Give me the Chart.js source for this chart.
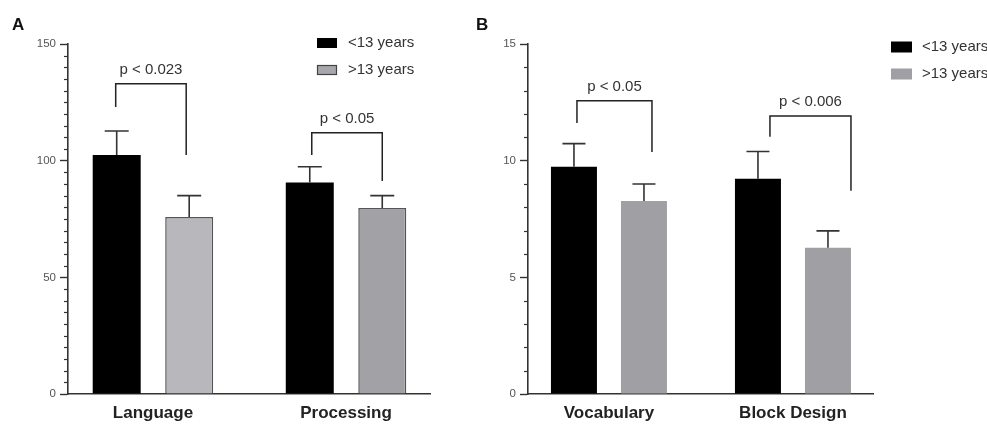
<!DOCTYPE html>
<html>
<head>
<meta charset="utf-8">
<script src="https://cdn.jsdelivr.net/npm/chart.js@4/dist/chart.umd.min.js"></script>
<style>
  html, body { margin: 0; padding: 0; background: #fff; }
  #wrap { position: relative; width: 987px; height: 426px; overflow: hidden; font-family: 'Liberation Sans', Arial, sans-serif; }
  .panel { position: absolute; top: 0; }
  .letter { position: absolute; top: 16px; font-weight: bold; font-size: 17px; line-height: 17px; color: #111; }
</style>
</head>
<body>
<div id="wrap">
  <div class="panel" style="left:0"><canvas id="chartA" width="480" height="426"></canvas></div>
  <div class="panel" style="left:480px"><canvas id="chartB" width="507" height="426"></canvas></div>
  <div class="letter" style="left:12px">A</div>
  <div class="letter" style="left:476px">B</div>
</div>
<script>
const FONT = "'Liberation Sans', Arial, sans-serif";
const SERIES = ['<13 years', '>13 years'];

// panel A
const catsA = ['Language', 'Processing'];
const youngA = [102.4, 90.6];
const youngErrA = [10.3, 6.8];
const oldA = [75.9, 79.7];
const oldErrA = [9.1, 5.3];
const pLabelsA = ['p < 0.023', 'p < 0.05'];
const bracketTopA = [133, 112];
const bracketLeftA = [123, 102.4];
const bracketRightA = [102.4, 91.3];

// panel B
const catsB = ['Vocabulary', 'Block Design'];
const youngB = [9.74, 9.23];
const youngErrB = [0.99, 1.16];
const oldB = [8.27, 6.27];
const oldErrB = [0.73, 0.72];
const pLabelsB = ['p < 0.05', 'p < 0.006'];
const bracketTopB = [12.57, 11.91];
const bracketLeftB = [11.61, 11.03];
const bracketRightB = [10.37, 8.71];

const annotate = {
  id: 'annotate',
  afterDatasetsDraw(chart, args, opts) {
    const ctx = chart.ctx;
    const y = chart.scales.y;
    ctx.save();

    // minor ticks on the y axis
    ctx.strokeStyle = '#333';
    ctx.lineWidth = 1.2;
    y.ticks.forEach((t) => {
      if (t.value % opts.major === 0) return;
      const py = Math.round(y.getPixelForValue(t.value)) + 0.5;
      ctx.beginPath();
      ctx.moveTo(chart.chartArea.left - 4, py);
      ctx.lineTo(chart.chartArea.left, py);
      ctx.stroke();
    });

    // error bars (upper whisker only)
    ctx.strokeStyle = '#333';
    ctx.lineWidth = 1.6;
    chart.data.datasets.forEach((ds, di) => {
      const meta = chart.getDatasetMeta(di);
      meta.data.forEach((bar, i) => {
        const top = y.getPixelForValue(ds.data[i].y + ds.errors[i]);
        const half = bar.width / 4;
        ctx.beginPath();
        ctx.moveTo(bar.x, bar.y);
        ctx.lineTo(bar.x, top);
        ctx.moveTo(bar.x - half, top);
        ctx.lineTo(bar.x + half, top);
        ctx.stroke();
      });
    });

    // significance brackets
    const m0 = chart.getDatasetMeta(0);
    const m1 = chart.getDatasetMeta(1);
    ctx.strokeStyle = '#222';
    ctx.lineWidth = 1.5;
    ctx.fillStyle = '#333';
    ctx.font = '15px ' + FONT;
    ctx.textAlign = 'center';
    ctx.textBaseline = 'middle';
    opts.labels.forEach((label, i) => {
      const lx = m0.data[i].x + opts.shift[i][0];
      const rx = m1.data[i].x + opts.shift[i][1];
      const ty = y.getPixelForValue(opts.top[i]);
      ctx.beginPath();
      ctx.moveTo(lx, y.getPixelForValue(opts.left[i]));
      ctx.lineTo(lx, ty);
      ctx.lineTo(rx, ty);
      ctx.lineTo(rx, y.getPixelForValue(opts.right[i]));
      ctx.stroke();
      ctx.fillText(label, (lx + rx) / 2, ty - 14);
    });

    // legend
    ctx.textAlign = 'left';
    chart.data.datasets.forEach((ds, di) => {
      const cy = opts.legend.y[di];
      const sx = opts.legend.x;
      ctx.fillStyle = opts.legend.fill[di];
      ctx.fillRect(sx, cy - opts.legend.h / 2, opts.legend.w, opts.legend.h);
      if (opts.legend.border[di]) {
        ctx.strokeStyle = opts.legend.border[di];
        ctx.lineWidth = 1.2;
        ctx.strokeRect(sx + 0.5, cy - opts.legend.h / 2 + 0.5, opts.legend.w - 1, opts.legend.h - 1);
      }
      ctx.fillStyle = '#333';
      ctx.fillText(ds.label, opts.legend.textX, cy);
    });

    ctx.restore();
  }
};

function makeChart(id, cfg) {
  return new Chart(document.getElementById(id), {
    type: 'bar',
    data: {
      datasets: [
        {
          label: SERIES[0],
          data: cfg.cats.map((c, i) => ({ x: i, y: cfg.young[i] })),
          errors: cfg.youngErr,
          backgroundColor: '#000',
          borderWidth: 0
        },
        {
          label: SERIES[1],
          data: cfg.cats.map((c, i) => ({ x: i, y: cfg.old[i] })),
          errors: cfg.oldErr,
          backgroundColor: cfg.grayFill,
          borderColor: cfg.grayBorder,
          borderWidth: cfg.grayBorderWidth,
          borderSkipped: 'bottom'
        }
      ]
    },
    options: {
      responsive: false,
      animation: false,
      categoryPercentage: cfg.catPct,
      barPercentage: cfg.barPct,
      layout: { padding: { top: 44, left: 0, right: cfg.padRight, bottom: 0 } },
      plugins: {
        legend: { display: false },
        tooltip: { enabled: false },
        annotate: cfg.annotate
      },
      scales: {
        x: {
          type: 'linear',
          min: -0.44,
          max: 1.435,
          offset: false,
          afterBuildTicks: (s) => { s.ticks = cfg.cats.map((c, i) => ({ value: i })); },
          afterFit: (s) => { s.height = 32; },
          grid: { display: false, offset: false, drawTicks: false },
          border: { display: true, color: '#333', width: 1.6 },
          ticks: {
            callback: (v) => cfg.cats[v],
            autoSkip: false,
            maxRotation: 0,
            padding: 9,
            color: '#222',
            font: { family: FONT, size: 17, weight: 'bold' }
          }
        },
        y: {
          min: 0,
          max: cfg.yMax,
          afterFit: (s) => { s.width = cfg.yWidth; },
          grid: {
            display: true,
            drawOnChartArea: false,
            drawTicks: true,
            tickLength: 8,
            tickWidth: 1.4,
            tickColor: (c) => (c.tick.value % cfg.major === 0 ? '#333' : 'rgba(0,0,0,0)')
          },
          border: { display: true, color: '#333', width: 1.6 },
          ticks: {
            stepSize: cfg.step,
            autoSkip: false,
            padding: 4,
            color: '#555',
            font: { family: FONT, size: 11.5 },
            callback: (v) => (v % cfg.major === 0 ? v : '')
          }
        }
      }
    },
    plugins: [annotate]
  });
}

makeChart('chartA', {
  cats: catsA, young: youngA, youngErr: youngErrA, old: oldA, oldErr: oldErrA,
  grayFill: ['#b8b8bc', '#a2a2a6'], grayBorder: '#555', grayBorderWidth: 1.5,
  catPct: 0.751, barPct: 0.662, padRight: 50, yWidth: 68, yMax: 150, step: 5, major: 50,
  annotate: {
    major: 50,
    labels: pLabelsA, top: bracketTopA, left: bracketLeftA, right: bracketRightA,
    shift: [[-1, -3], [2, 0]],
    legend: { x: 317, w: 20, h: 10, textX: 348, y: [43, 70], fill: ['#000', '#a8a8ac'], border: [null, '#444'] }
  }
});

makeChart('chartB', {
  cats: catsB, young: youngB, youngErr: youngErrB, old: oldB, oldErr: oldErrB,
  grayFill: '#a0a0a4', grayBorder: '#a0a0a4', grayBorderWidth: 0,
  catPct: 0.761, barPct: 0.657, padRight: 114, yWidth: 48, yMax: 15, step: 1, major: 5,
  annotate: {
    major: 5,
    labels: pLabelsB, top: bracketTopB, left: bracketLeftB, right: bracketRightB,
    shift: [[3, 8], [12, 23]],
    legend: { x: 411, w: 21, h: 11, textX: 442, y: [47, 74], fill: ['#000', '#a0a0a4'], border: [null, null] }
  }
});
</script>
</body>
</html>
